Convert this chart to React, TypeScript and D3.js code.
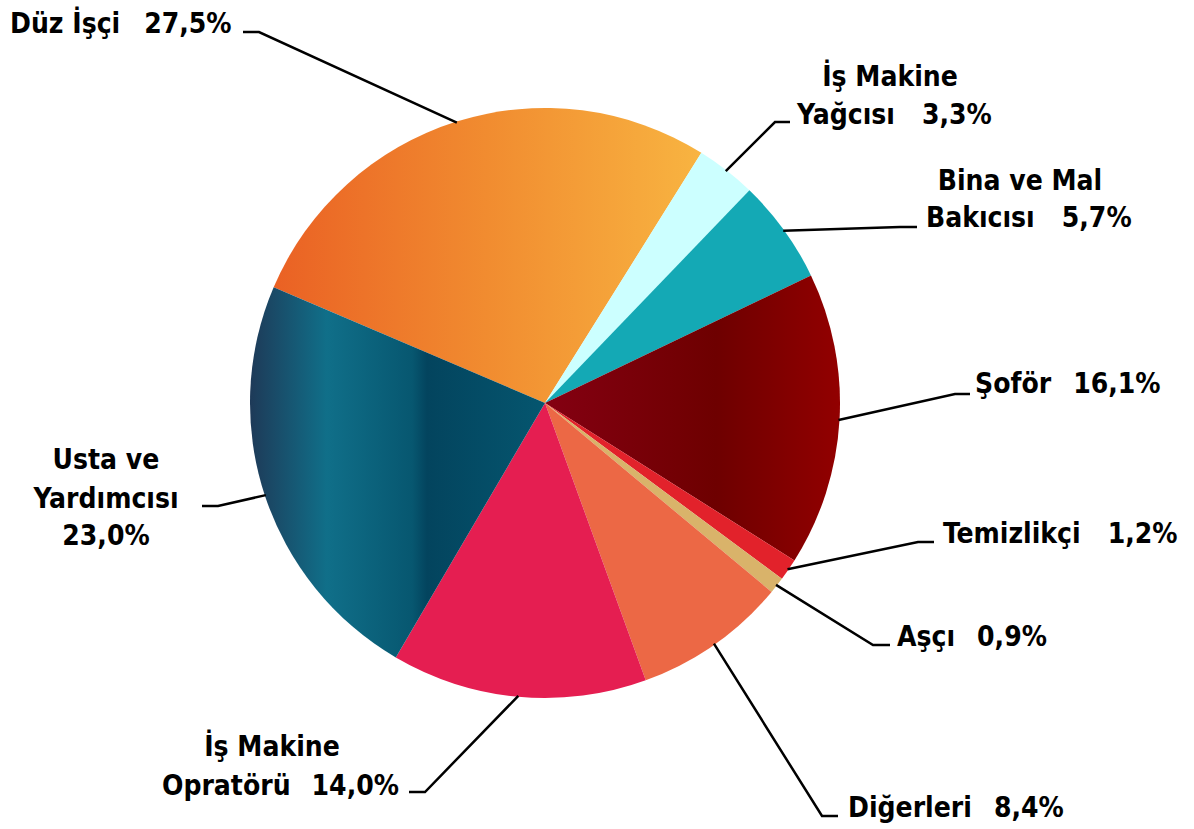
import React from "react";
import * as d3 from "d3";

const categories = [
  "Düz İşçi",
  "İş Makine Yağcısı",
  "Bina ve Mal Bakıcısı",
  "Şoför",
  "Temizlikçi",
  "Aşçı",
  "Diğerleri",
  "İş Makine Opratörü",
  "Usta ve Yardımcısı",
];
const values = [27.5, 3.3, 5.7, 16.1, 1.2, 0.9, 8.4, 14.0, 23.0];
const valueLabels = ["27,5%", "3,3%", "5,7%", "16,1%", "1,2%", "0,9%", "8,4%", "14,0%", "23,0%"];

type Layout = {
  lines: { t: string; pct?: boolean; x: number; y: number; anchor: string }[];
  gap: number;
  elbow: [number, number];
  end: [number, number];
};

const layouts: Layout[] = [
  { lines: [{ t: "Düz İşçi", pct: true, x: 10, y: 33, anchor: "start" }], gap: 24, elbow: [259, 32], end: [243, 32] },
  {
    lines: [
      { t: "İş Makine", x: 890, y: 86, anchor: "middle" },
      { t: "Yağcısı", pct: true, x: 797, y: 124, anchor: "start" },
    ],
    gap: 27,
    elbow: [775, 122],
    end: [790, 122],
  },
  {
    lines: [
      { t: "Bina ve Mal", x: 1020, y: 190, anchor: "middle" },
      { t: "Bakıcısı", pct: true, x: 926, y: 227, anchor: "start" },
    ],
    gap: 27,
    elbow: [900, 227],
    end: [917, 227],
  },
  { lines: [{ t: "Şoför", pct: true, x: 975, y: 393, anchor: "start" }], gap: 22, elbow: [955, 394], end: [970, 394] },
  { lines: [{ t: "Temizlikçi", pct: true, x: 943, y: 543, anchor: "start" }], gap: 27, elbow: [918, 542], end: [934, 542] },
  { lines: [{ t: "Aşçı", pct: true, x: 897, y: 646, anchor: "start" }], gap: 22, elbow: [873, 645], end: [890, 645] },
  { lines: [{ t: "Diğerleri", pct: true, x: 848, y: 817, anchor: "start" }], gap: 22, elbow: [822, 816], end: [838, 816] },
  {
    lines: [
      { t: "İş Makine", x: 272, y: 756, anchor: "middle" },
      { t: "Opratörü", pct: true, x: 162, y: 795, anchor: "start" },
    ],
    gap: 21,
    elbow: [425, 792],
    end: [409, 792],
  },
  {
    lines: [
      { t: "Usta ve", x: 106, y: 469, anchor: "middle" },
      { t: "Yardımcısı", x: 106, y: 508, anchor: "middle" },
      { t: "__PCT__", x: 106, y: 545, anchor: "middle" },
    ],
    gap: 0,
    elbow: [218, 506],
    end: [202, 506],
  },
];

const fills = [
  "url(#gOrange)",
  "#CCFFFF",
  "#14A9B5",
  "url(#gRed)",
  "#E2222B",
  "#D9B36A",
  "#EC6845",
  "#E51E51",
  "url(#gBlue)",
];

const cx = 545;
const cy = 403;
const R = 295;
const total = d3.sum(values);
const startA = ((32.0 - (values[0] / total) * 360) * Math.PI) / 180;

export default function App() {
  const pie = d3
    .pie<number>()
    .sort(null)
    .value((d) => d)
    .startAngle(startA)
    .endAngle(startA + Math.PI * 2);
  const arcs = pie(values);
  const arc = d3.arc<d3.PieArcDatum<number>>().innerRadius(0).outerRadius(R);
  const font = "'DejaVu Sans Condensed', 'DejaVu Sans', sans-serif";
  const fs = 28;

  return (
    <svg width={1194} height={829} style={{ display: "block", position: "absolute", left: 0, top: 0 }}>
      <defs>
        <linearGradient id="gOrange" x1="0" x2="1" y1="0" y2="0">
          <stop offset="0" stopColor="#EA6124" />
          <stop offset="0.5" stopColor="#F18C30" />
          <stop offset="1" stopColor="#F8B441" />
        </linearGradient>
        <linearGradient id="gBlue" x1="0" x2="1" y1="0" y2="0">
          <stop offset="0" stopColor="#1E3A58" />
          <stop offset="0.26" stopColor="#106F89" />
          <stop offset="0.55" stopColor="#075770" />
          <stop offset="0.6" stopColor="#03445E" />
          <stop offset="1" stopColor="#05566F" />
        </linearGradient>
        <linearGradient id="gRed" x1="0" x2="1" y1="0" y2="0">
          <stop offset="0" stopColor="#840012" />
          <stop offset="0.58" stopColor="#6E0000" />
          <stop offset="1" stopColor="#920000" />
        </linearGradient>
      </defs>
      <g transform={`translate(${cx},${cy})`}>
        {arcs.map((a, i) => (
          <path key={i} d={arc(a) || ""} fill={fills[i]} />
        ))}
      </g>
      {arcs.map((a, i) => {
        const mid = (a.startAngle + a.endAngle) / 2;
        const sx = cx + Math.sin(mid) * (R - 1);
        const sy = cy - Math.cos(mid) * (R - 1);
        const L = layouts[i];
        return (
          <polyline
            key={"l" + i}
            points={`${sx},${sy} ${L.elbow[0]},${L.elbow[1]} ${L.end[0]},${L.end[1]}`}
            fill="none"
            stroke="#000"
            strokeWidth={2.5}
          />
        );
      })}
      {layouts.map((L, i) =>
        L.lines.map((ln, j) => (
          <text
            key={`t${i}-${j}`}
            x={ln.x}
            y={ln.y}
            textAnchor={ln.anchor as any}
            fontFamily={font}
            fontWeight="bold"
            fontSize={fs}
            fill="#000"
          >
            {ln.t === "__PCT__" ? valueLabels[i] : ln.t}
            {ln.pct ? <tspan dx={L.gap}>{valueLabels[i]}</tspan> : null}
          </text>
        ))
      )}
    </svg>
  );
}
